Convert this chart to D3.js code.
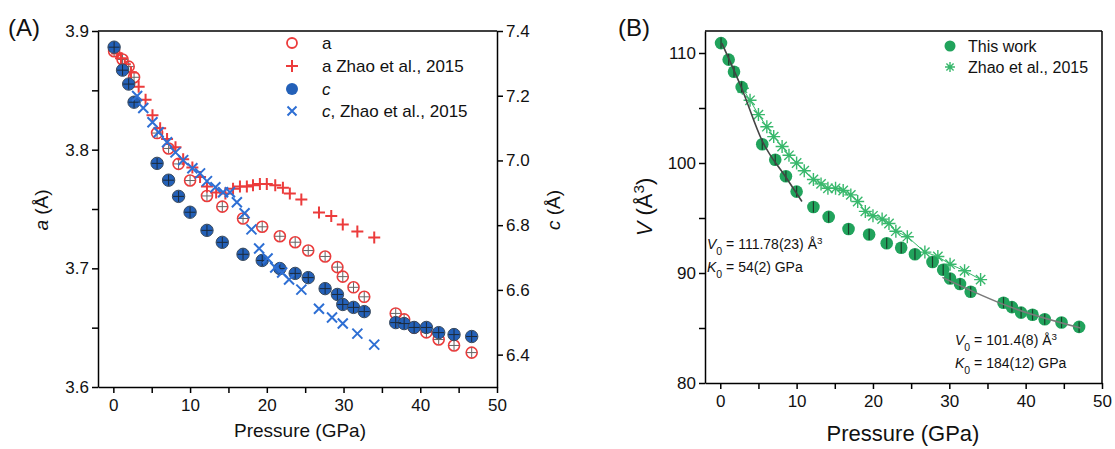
<!DOCTYPE html>
<html>
<head>
<meta charset="utf-8">
<script src="https://cdn.jsdelivr.net/npm/d3@7"></script>
<style>
  body { margin: 0; background: #fff; }
  svg { font-family: Arial, "Liberation Sans", sans-serif; }
  .axis path, .axis line { stroke: #000; stroke-width: 1.5; }
  .axis text { font-size: 17px; fill: #111; }
</style>
</head>
<body>
<div id="chart"></div>
<script>
// ---- Panel A: lattice parameters -------------------------------------------
const pA = [0.1, 1.2, 2.0, 2.7, 5.7, 7.2, 8.5, 10.0, 12.2, 14.2, 16.9, 19.4, 21.7, 23.7,
  25.4, 27.6, 29.2, 29.9, 31.3, 32.7, 36.8, 37.9, 39.2, 40.8, 42.4, 44.4, 46.7];
const aThis = [3.883, 3.876, 3.870, 3.861, 3.814, 3.801, 3.788, 3.774, 3.761, 3.752, 3.742,
  3.735, 3.727, 3.722, 3.715, 3.710, 3.701, 3.693, 3.684, 3.676, 3.662, 3.657, 3.650, 3.646,
  3.640, 3.635, 3.629];
const cThis = [7.350, 7.279, 7.236, 7.180, 6.991, 6.939, 6.889, 6.840, 6.784, 6.747, 6.710,
  6.691, 6.666, 6.651, 6.638, 6.604, 6.586, 6.555, 6.546, 6.533, 6.499, 6.496, 6.484, 6.484,
  6.468, 6.462, 6.456];

const pAZhao = [0.5, 1.0, 1.5, 2.3, 3.3, 4.2, 5.1, 6.1, 7.0, 8.1, 9.1, 10.3, 11.3, 12.2, 13.4,
  14.6, 15.6, 16.5, 17.4, 18.2, 19.1, 20.0, 21.1, 22.1, 23.0, 24.5, 26.8, 28.4, 29.9, 31.8, 34.0];
const aZhao = [3.881, 3.877, 3.872, 3.865, 3.853, 3.842, 3.829, 3.818, 3.809, 3.802, 3.792,
  3.785, 3.777, 3.769, 3.764, 3.763, 3.767, 3.769, 3.769, 3.770, 3.771, 3.771, 3.770, 3.768,
  3.763, 3.758, 3.747, 3.744, 3.737, 3.731, 3.726];

const pCZhao = [3.1, 3.9, 5.1, 5.9, 7.0, 8.1, 9.1, 10.3, 11.3, 12.2, 13.3, 14.3, 15.2, 16.1,
  17.1, 18.0, 19.0, 20.1, 21.1, 22.0, 22.9, 24.5, 26.8, 28.5, 29.9, 31.8, 34.0];
const cZhao = [7.199, 7.162, 7.118, 7.087, 7.056, 7.025, 7.001, 6.976, 6.960, 6.936, 6.917,
  6.902, 6.902, 6.871, 6.837, 6.787, 6.728, 6.697, 6.669, 6.654, 6.632, 6.601, 6.542, 6.515,
  6.496, 6.465, 6.431];

const xTicks = [0, 10, 20, 30, 40, 50];
const aTicks = [3.6, 3.7, 3.8, 3.9];
const cTicks = [6.4, 6.6, 6.8, 7.0, 7.2, 7.4];

// ---- Panel B: unit-cell volume ---------------------------------------------
const pV = [0.1, 1.1, 1.8, 2.8, 5.5, 7.2, 8.6, 10.0, 12.2, 14.2, 16.8, 19.5, 21.8, 23.7, 25.5,
  27.8, 29.2, 30.1, 31.4, 32.8, 37.1, 38.2, 39.4, 40.9, 42.5, 44.7, 47.0];
const vThis = [110.9, 109.4, 108.3, 106.9, 101.7, 100.3, 98.8, 97.4, 96.0, 95.1, 94.0, 93.5,
  92.7, 92.3, 91.7, 91.0, 90.3, 89.5, 89.0, 88.3, 87.3, 86.9, 86.4, 86.2, 85.8, 85.5, 85.1];

const pVZhao = [2.9, 3.9, 5.0, 6.1, 7.0, 8.1, 9.0, 10.0, 11.0, 12.2, 13.2, 14.1, 15.1, 16.1,
  17.1, 18.0, 19.0, 20.0, 21.2, 22.1, 23.0, 24.5, 26.8, 28.5, 30.1, 32.0, 34.1];
const vZhao = [106.8, 105.7, 104.4, 103.3, 102.4, 101.5, 100.7, 100.0, 99.3, 98.5, 98.1, 97.7,
  97.7, 97.5, 97.1, 96.5, 95.6, 95.2, 94.9, 94.5, 93.8, 93.3, 91.9, 91.5, 90.8, 90.2, 89.4];

// EOS fit curves
const fitLowP = [0.2, 2.8, 5.5, 8.6, 10.7];
const fitLowV = [110.9, 106.8, 102.0, 98.7, 96.5];
const fitHighP = [29.1, 38.0, 47.2];
const fitHighV = [89.6, 86.9, 85.0];

const vTicks = [80, 90, 100, 110];

const red = '#ec3b3b';
const blue = '#2360b8';
const blueX = '#2e6fd4';
const green = '#21a35c';
const greenStar = '#38b86c';

const svg = d3.select('#chart')
  .append('svg')
  .attr('width', 1115)
  .attr('height', 449);

// Adds subscript / superscript pieces to a text element
function rich(text, parts) {
  parts.forEach(function (p) {
    const t = text.append('tspan').text(p.t);
    if (p.italic) t.style('font-style', 'italic');
    if (p.sub) t.attr('baseline-shift', 'sub').style('font-size', '75%');
    if (p.sup) t.attr('baseline-shift', 'super').style('font-size', '70%');
  });
  return text;
}

// Draws a box frame with ticks on the chosen sides
function frame(g, x, y, box, opts) {
  g.append('g')
    .attr('class', 'axis')
    .attr('transform', 'translate(0,' + box.bottom + ')')
    .call(d3.axisBottom(x).tickValues(d3.range(0, 51, 5)).tickSize(6)
      .tickFormat(function (d) { return xTicks.indexOf(d) >= 0 ? d : ''; }).tickSizeOuter(0))
    .selectAll('text').attr('dy', '0.9em');

  g.append('g')
    .attr('class', 'axis')
    .attr('transform', 'translate(' + box.left + ',0)')
    .call(d3.axisLeft(y).tickValues(opts.leftTicks).tickSize(6)
      .tickFormat(opts.leftFormat).tickSizeOuter(0));

  g.append('line')
    .attr('x1', box.left).attr('x2', box.right)
    .attr('y1', box.top).attr('y2', box.top)
    .attr('stroke', '#000').attr('stroke-width', 1.5);
  if (!opts.rightAxis) {
    g.append('line')
      .attr('x1', box.right).attr('x2', box.right)
      .attr('y1', box.top).attr('y2', box.bottom)
      .attr('stroke', '#000').attr('stroke-width', 1.5);
  }
}

// ---------------------------------------------------------------------------
// Panel A
const boxA = { left: 98, right: 497, top: 31, bottom: 387 };
const xA = d3.scaleLinear().domain([-2, 50]).range([boxA.left, boxA.right]);
const yA = d3.scaleLinear().domain([3.6, 3.9]).range([boxA.bottom, boxA.top]);
const yC = d3.scaleLinear().domain([6.3, 7.4]).range([boxA.bottom, boxA.top]);

const gA = svg.append('g');
frame(gA, xA, yA, boxA, {
  leftTicks: d3.range(3.6, 3.9001, 0.05).map(function (d) { return +d.toFixed(2); }),
  leftFormat: function (d) { return aTicks.indexOf(d) >= 0 ? d3.format('.1f')(d) : ''; },
  rightAxis: true
});

gA.append('g')
  .attr('class', 'axis')
  .attr('transform', 'translate(' + boxA.right + ',0)')
  .call(d3.axisRight(yC).tickValues(cTicks).tickSize(6).tickFormat(d3.format('.1f'))
    .tickSizeOuter(0));

// Draw the markers, red first so that the blue ones sit on top
const aPts = pA.map(function (p, i) { return [xA(p), yA(aThis[i])]; });
const cPts = pA.map(function (p, i) { return [xA(p), yC(cThis[i])]; });
const aZPts = pAZhao.map(function (p, i) { return [xA(p), yA(aZhao[i])]; });
const cZPts = pCZhao.map(function (p, i) { return [xA(p), yC(cZhao[i])]; });

function crossHair(g, pts, r, color) {
  g.selectAll(null).data(pts).enter().append('path')
    .attr('d', function (d) {
      return 'M' + (d[0] - r) + ',' + d[1] + 'h' + 2 * r +
        'M' + d[0] + ',' + (d[1] - r) + 'v' + 2 * r;
    })
    .attr('stroke', color).attr('stroke-width', 1).attr('fill', 'none');
}

function plusMarks(g, pts, s, color) {
  g.selectAll(null).data(pts).enter().append('path')
    .attr('d', function (d) {
      return 'M' + (d[0] - s) + ',' + d[1] + 'h' + 2 * s +
        'M' + d[0] + ',' + (d[1] - s) + 'v' + 2 * s;
    })
    .attr('stroke', color).attr('stroke-width', 2).attr('fill', 'none');
}

function xMarks(g, pts, s, color) {
  g.selectAll(null).data(pts).enter().append('path')
    .attr('d', function (d) {
      return 'M' + (d[0] - s) + ',' + (d[1] - s) + 'l' + 2 * s + ',' + 2 * s +
        'M' + (d[0] - s) + ',' + (d[1] + s) + 'l' + 2 * s + ',' + (-2 * s);
    })
    .attr('stroke', color).attr('stroke-width', 2).attr('fill', 'none');
}

const marksA = gA.append('g');
marksA.selectAll(null).data(aPts).enter().append('circle')
  .attr('cx', function (d) { return d[0]; }).attr('cy', function (d) { return d[1]; })
  .attr('r', 5.5).attr('fill', 'none').attr('stroke', red).attr('stroke-width', 1.6);
crossHair(marksA, aPts, 5, '#666');
plusMarks(marksA, aZPts, 6, red);
marksA.selectAll(null).data(cPts).enter().append('circle')
  .attr('cx', function (d) { return d[0]; }).attr('cy', function (d) { return d[1]; })
  .attr('r', 6.2).attr('fill', blue).attr('stroke', '#3a4a5c').attr('stroke-width', 1);
crossHair(marksA, cPts, 5.5, '#1c2a3a');
xMarks(marksA, cZPts, 5, blueX);

// Legend A
const legA = gA.append('g').attr('transform', 'translate(292,0)');
const legRowsA = [
  { y: 43, kind: 'o', label: [{ t: 'a' }] },
  { y: 66, kind: '+', label: [{ t: 'a Zhao et al., 2015' }] },
  { y: 89, kind: 'c', label: [{ t: 'c', italic: true }] },
  { y: 111, kind: 'x', label: [{ t: 'c', italic: true }, { t: ', Zhao et al., 2015' }] }
];
legRowsA.forEach(function (row) {
  if (row.kind === 'o') {
    legA.append('circle').attr('cx', 0).attr('cy', row.y).attr('r', 5)
      .attr('fill', 'none').attr('stroke', red).attr('stroke-width', 1.8);
  } else if (row.kind === '+') {
    plusMarks(legA, [[0, row.y]], 6, red);
  } else if (row.kind === 'c') {
    legA.append('circle').attr('cx', 0).attr('cy', row.y).attr('r', 6).attr('fill', blue);
  } else {
    xMarks(legA, [[0, row.y]], 4.5, blueX);
  }
  rich(legA.append('text').attr('x', 30).attr('y', row.y).attr('dy', '0.35em')
    .style('font-size', '17px').attr('fill', '#111'), row.label);
});

// Axis titles A
rich(svg.append('text').attr('transform', 'translate(48,' + 210 + ') rotate(-90)')
  .attr('text-anchor', 'middle').style('font-size', '19px').attr('fill', '#111'),
  [{ t: 'a', italic: true }, { t: ' (Å)' }]);
rich(svg.append('text').attr('transform', 'translate(560,' + 210 + ') rotate(-90)')
  .attr('text-anchor', 'middle').style('font-size', '19px').attr('fill', '#111'),
  [{ t: 'c', italic: true }, { t: ' (Å)' }]);
svg.append('text').attr('x', 300).attr('y', 437).attr('text-anchor', 'middle')
  .style('font-size', '19px').attr('fill', '#111').text('Pressure (GPa)');
svg.append('text').attr('x', 8).attr('y', 36).style('font-size', '24px')
  .attr('fill', '#111').text('(A)');

// ---------------------------------------------------------------------------
// Panel B
const boxB = { left: 705, right: 1102, top: 31, bottom: 383 };
const xB = d3.scaleLinear().domain([-2, 50]).range([boxB.left, boxB.right]);
const yB = d3.scaleLinear().domain([80, 112]).range([boxB.bottom, boxB.top]);

const gB = svg.append('g');
frame(gB, xB, yB, boxB, {
  leftTicks: d3.range(80, 111, 5),
  leftFormat: function (d) { return vTicks.indexOf(d) >= 0 ? d : ''; },
  rightAxis: false
});

const line = d3.line()
  .x(function (d) { return xB(d[0]); })
  .y(function (d) { return yB(d[1]); });

// Zhao et al. points joined by a thin line
const vZPts = pVZhao.map(function (p, i) { return [p, vZhao[i]]; });
gB.append('path').datum(vZPts).attr('d', line).attr('fill', 'none')
  .attr('stroke', greenStar).attr('stroke-width', 1);

function starMarks(g, pts, s, color) {
  g.selectAll(null).data(pts).enter().append('path')
    .attr('d', function (d) {
      const k = s * 0.72;
      return 'M' + (d[0] - s) + ',' + d[1] + 'h' + 2 * s +
        'M' + d[0] + ',' + (d[1] - s) + 'v' + 2 * s +
        'M' + (d[0] - k) + ',' + (d[1] - k) + 'l' + 2 * k + ',' + 2 * k +
        'M' + (d[0] - k) + ',' + (d[1] + k) + 'l' + 2 * k + ',' + (-2 * k);
    })
    .attr('stroke', color).attr('stroke-width', 1.4).attr('fill', 'none');
}
starMarks(gB, vZPts.map(function (d) { return [xB(d[0]), yB(d[1])]; }), 6.5, greenStar);

const vPts = pV.map(function (p, i) { return [xB(p), yB(vThis[i])]; });
gB.selectAll(null).data(vPts).enter().append('circle')
  .attr('cx', function (d) { return d[0]; }).attr('cy', function (d) { return d[1]; })
  .attr('r', 6.3).attr('fill', green);
gB.selectAll(null).data(vPts).enter().append('line')
  .attr('x1', function (d) { return d[0]; }).attr('x2', function (d) { return d[0]; })
  .attr('y1', function (d) { return d[1] - 5.5; }).attr('y2', function (d) { return d[1] + 5.5; })
  .attr('stroke', '#1b3d2a').attr('stroke-width', 1.2);

// EOS fits
const smooth = d3.line().curve(d3.curveMonotoneX)
  .x(function (d) { return xB(d[0]); })
  .y(function (d) { return yB(d[1]); });
gB.append('path').datum(fitLowP.map(function (p, i) { return [p, fitLowV[i]]; }))
  .attr('d', smooth).attr('fill', 'none').attr('stroke', '#444').attr('stroke-width', 1.6);
gB.append('path').datum(fitHighP.map(function (p, i) { return [p, fitHighV[i]]; }))
  .attr('d', smooth).attr('fill', 'none').attr('stroke', '#7a7a7a').attr('stroke-width', 1.6);

// Legend B
gB.append('circle').attr('cx', 950).attr('cy', 46).attr('r', 5.5).attr('fill', green);
starMarks(gB, [[950, 67]], 5, greenStar);
gB.append('text').attr('x', 968).attr('y', 46).attr('dy', '0.35em')
  .style('font-size', '16px').attr('fill', '#111').text('This work');
gB.append('text').attr('x', 968).attr('y', 67).attr('dy', '0.35em')
  .style('font-size', '16px').attr('fill', '#111').text('Zhao et al., 2015');

// Fit annotations
function annot(x, y, parts) {
  rich(gB.append('text').attr('x', x).attr('y', y).style('font-size', '14px')
    .attr('fill', '#111'), parts);
}
annot(707, 249, [{ t: 'V', italic: true }, { t: '0', sub: true }, { t: ' = 111.78(23) Å' },
  { t: '3', sup: true }]);
annot(707, 272, [{ t: 'K', italic: true }, { t: '0', sub: true }, { t: ' = 54(2) GPa' }]);
annot(955, 345, [{ t: 'V', italic: true }, { t: '0', sub: true }, { t: ' = 101.4(8) Å' },
  { t: '3', sup: true }]);
annot(955, 368, [{ t: 'K', italic: true }, { t: '0', sub: true }, { t: ' = 184(12) GPa' }]);

// Axis titles B
rich(svg.append('text').attr('transform', 'translate(652,' + 207 + ') rotate(-90)')
  .attr('text-anchor', 'middle').style('font-size', '22px').attr('fill', '#111'),
  [{ t: 'V', italic: true }, { t: ' (Å' }, { t: '3', sup: true }, { t: ')' }]);
svg.append('text').attr('x', 903).attr('y', 441).attr('text-anchor', 'middle')
  .style('font-size', '22px').attr('fill', '#111').text('Pressure (GPa)');
svg.append('text').attr('x', 618).attr('y', 36).style('font-size', '24px')
  .attr('fill', '#111').text('(B)');
</script>
</body>
</html>
